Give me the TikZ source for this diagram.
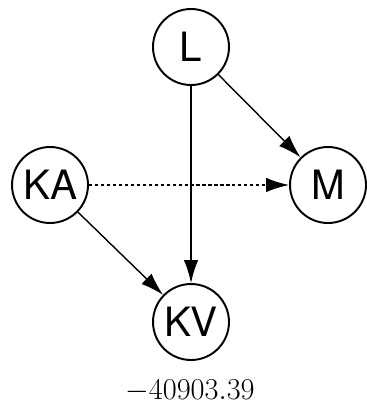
\documentclass[tikz,border=0pt]{standalone}
\usepackage{fontspec}
\usepackage{tikz}
\usetikzlibrary{arrows.meta,positioning}
\newfontfamily\varfont{TeX Gyre Heros}

\begin{document}
\begin{tikzpicture}[
    var/.style={circle,draw,line width=1.1pt,minimum size=15.2mm,inner sep=0pt,font=\varfont\fontsize{23}{23}\selectfont},
    edge/.style={-{Latex[length=4.6mm,width=2.9mm]},line width=0.8pt},
    x=0.02cm, y=-0.02cm
  ]
  \useasboundingbox (0,0) rectangle (366,413);
  \node[var] (L) at (191,47) {L};
  \node[var] (KA) at (50,185) {KA};
  \node[var] (M) at (328,185) {M};
  \node[var] (KV) at (191,322) {KV};
  \draw[edge] (L) -- (M);
  \draw[edge] (L) -- (KV);
  \draw[edge] (KA) -- (KV);
  \draw[edge,dash pattern=on 1.8pt off 1.6pt] (KA) -- (M);
  \node[font=\fontsize{18.5}{18.5}\selectfont,inner sep=0pt] (score) at (190,391) {$-40903.39$};
\end{tikzpicture}
\end{document}
